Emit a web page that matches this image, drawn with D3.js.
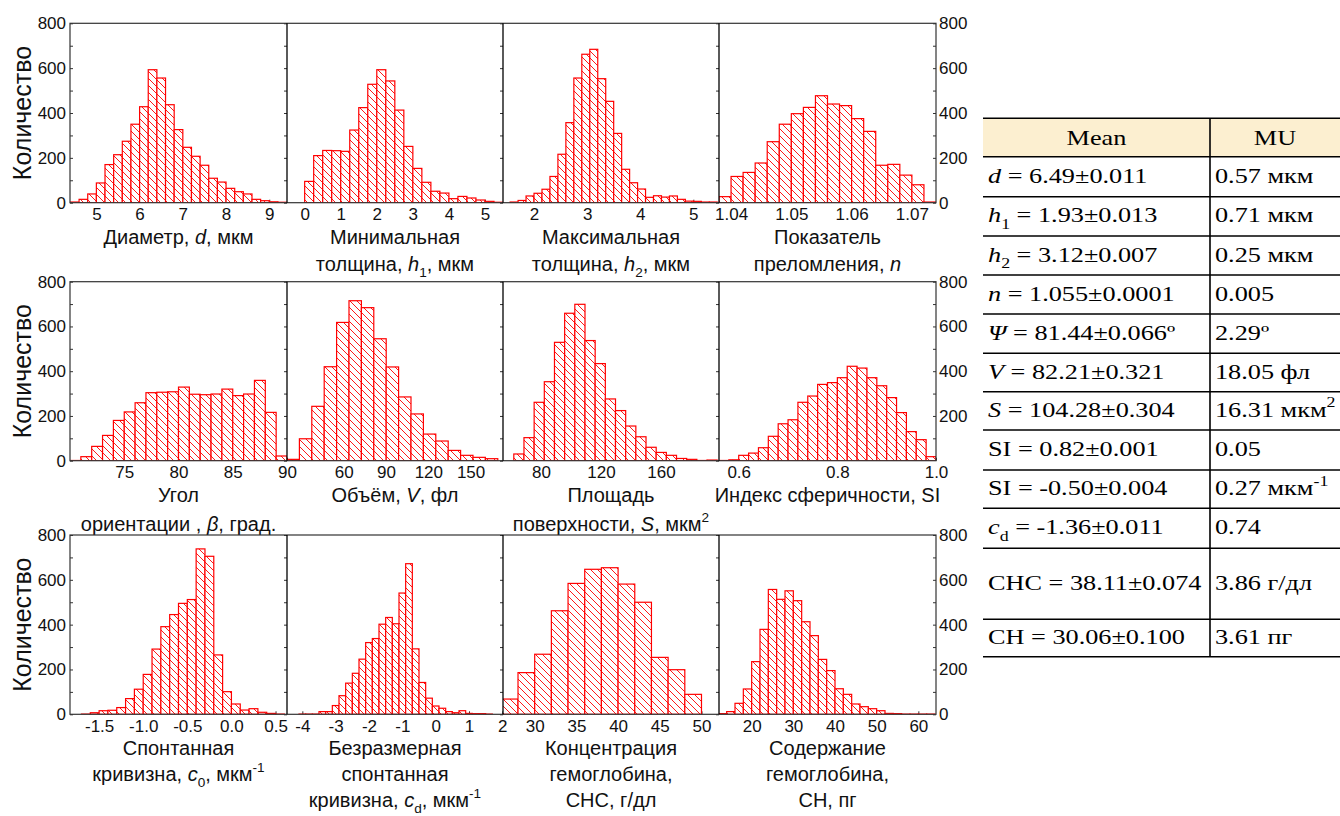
<!DOCTYPE html>
<html><head><meta charset="utf-8">
<script src="https://cdn.jsdelivr.net/npm/d3@7"></script>
<style>body{margin:0;background:#fff}svg{display:block}</style>
</head><body>
<svg id="c" width="1340" height="816"></svg>
<script>
// ---------- DATA ----------
const diameterCounts = [3,15,39,88,170,214,274,350,428,593,556,437,326,247,207,167,109,92,64,49,39,15,9,4,2];
const minThicknessCounts = [95,210,233,232,229,324,424,528,593,543,413,251,153,91,51,43,18,28,21,12,6,2];
const maxThicknessCounts = [3,10,30,42,60,117,216,357,556,662,684,553,452,309,149,89,61,24,31,25,30,15,7,6,3,3];
const refractiveCounts = [27,117,135,177,272,350,397,425,477,440,433,375,318,167,171,123,80,3];
const angleCounts = [1,18,64,113,180,218,259,304,306,308,329,297,295,298,320,291,298,359,216,21];
const volumeCounts = [6,98,243,420,618,715,684,545,419,285,209,119,88,46,24,15,9];
const areaCounts = [30,103,261,353,529,659,699,537,434,276,224,155,107,60,37,24,10,6,1,3];
const sphericityCounts = [1,4,24,34,58,109,165,183,261,289,341,349,371,422,414,371,335,282,215,130,94,18];
const curvatureCounts = [1,7,16,18,30,70,112,178,291,391,445,495,512,738,705,265,101,46,19,25,9,4,1];
const dimlessCurvatureCounts = [1,1,1,12,12,39,83,139,183,246,320,338,402,432,404,541,672,292,142,72,37,27,12,7,16,4,3,3,1];
const chcCounts = [68,186,268,462,584,647,654,581,500,254,199,89];
const chCounts = [3,12,49,113,235,379,557,513,551,507,413,351,245,195,114,89,46,34,25,16,4,3,1,1,1,1];

const binStarts = [4.4, 0, 1.55, 1.038, 70, 19.7, 61.9, 0.56, -1.7, -4.1, 26, 12];
const binWidths = [0.2, 0.25, 0.15, 0.002, 1, 8.8, 6.78, 0.02, 0.1, 0.2, 2, 2];
const xDomains = [[4.39,9.41],[-0.49,5.5],[1.416,5.483],[1.038,1.074],[70,90],[19.7,173],[54.7,198.7],[0.56,1.0],[-1.83,0.63],[-4.46,2.02],[26.2,52.1],[12.16,64.24]];
const xTicks = [[5,6,7,8,9],[0,1,2,3,4,5],[2,3,4,5],[1.04,1.05,1.06,1.07],[75,80,85,90],[60,90,120,150],[80,120,160],[0.6,0.8,1.0],[-1.5,-1.0,-0.5,0.0,0.5],[-4,-3,-2,-1,0,1,2],[30,35,40,45,50],[20,30,40,50,60]];
const xTickDecimals = [0,0,0,2,0,0,0,1,1,0,0,0];
const yTicks = [0,200,400,600,800];
const yMinorTicks = [100,300,500,700];
const rightTicksByRow = [[0,200,400,600,800],[200,400,600,800],[0,200,400,600,800]];
const yLabel = "Количество";
const axisTitles = [
  ["Диаметр, <i>d</i>, мкм"],
  ["Минимальная","толщина, <i>h</i><sub>1</sub>, мкм"],
  ["Максимальная","толщина, <i>h</i><sub>2</sub>, мкм"],
  ["Показатель","преломления, <i>n</i>"],
  ["Угол","ориентации , <i>β</i>, град."],
  ["Объём, <i>V</i>, фл"],
  ["Площадь","поверхности, <i>S</i>, мкм<sup>2</sup>"],
  ["Индекс сферичности, SI"],
  ["Спонтанная","кривизна, <i>c</i><sub>0</sub>, мкм<sup>-1</sup>"],
  ["Безразмерная","спонтанная","кривизна, <i>c</i><sub>d</sub>, мкм<sup>-1</sup>"],
  ["Концентрация","гемоглобина,","CHC, г/дл"],
  ["Содержание","гемоглобина,","CH, пг"]
];
const tableHeader = ["Mean","MU"];
const tableMean = [
  "<i>d</i> = 6.49±0.011",
  "<i>h</i><sub>1</sub> = 1.93±0.013",
  "<i>h</i><sub>2</sub> = 3.12±0.007",
  "<i>n</i> = 1.055±0.0001",
  "<i>Ψ</i> = 81.44±0.066º",
  "<i>V</i> = 82.21±0.321",
  "<i>S</i> = 104.28±0.304",
  "SI = 0.82±0.001",
  "SI = -0.50±0.004",
  "<i>c</i><sub>d</sub> = -1.36±0.011",
  "CHC = 38.11±0.074",
  "CH = 30.06±0.100"
];
const tableMU = ["0.57 мкм","0.71 мкм","0.25 мкм","0.005","2.29º","18.05 фл","16.31 мкм<sup>2</sup>","0.05","0.27 мкм<sup>-1</sup>","0.74","3.86 г/дл","3.61 пг"];

const allCounts = [diameterCounts,minThicknessCounts,maxThicknessCounts,refractiveCounts,angleCounts,volumeCounts,areaCounts,sphericityCounts,curvatureCounts,dimlessCurvatureCounts,chcCounts,chCounts];

// ---------- LAYOUT ----------
const SANS = "'Liberation Sans', Arial, sans-serif";
const SERIF = "'Liberation Serif', 'Times New Roman', serif";
const colX = [70, 287, 503, 719, 936];
const rowY = [[23.3,202.7],[281.7,460.7],[535,714.3]];
const titleGap = [27, 29, 26];
const RED = "#ff0000";

const svg = d3.select("#c");
const defs = svg.append("defs");
const pat = defs.append("pattern").attr("id","hatch").attr("patternUnits","userSpaceOnUse")
  .attr("width",7).attr("height",7);
pat.append("rect").attr("width",7).attr("height",7).attr("fill","#fff");
pat.append("path").attr("d","M0,0L7,7M-1,6L1,8M6,-1L8,1").attr("stroke",RED).attr("stroke-width",0.9);

// rich text helper
function rich(textSel, str, fs) {
  const parts = str.split(/(<\/?(?:i|sub|sup)>)/);
  let it=false, sub=false, sup=false, cur=0;
  parts.forEach(p => {
    if (!p) return;
    if (p==="<i>") {it=true;return;} if (p==="</i>") {it=false;return;}
    if (p==="<sub>") {sub=true;return;} if (p==="</sub>") {sub=false;return;}
    if (p==="<sup>") {sup=true;return;} if (p==="</sup>") {sup=false;return;}
    const target = sub ? 0.3*fs : (sup ? -0.45*fs : 0);
    const ts = textSel.append("tspan").text(p);
    if (it) ts.attr("font-style","italic");
    if (sub||sup) ts.attr("font-size", fs*0.68);
    if (target!==cur) { ts.attr("dy", target-cur); cur = target; }
  });
}

allCounts.forEach((counts, i) => {
  const r = Math.floor(i/4), c = i%4;
  const [top, bot] = rowY[r];
  const x0 = colX[c], x1 = colX[c+1];
  const x = d3.scaleLinear().domain(xDomains[i]).range([x0, x1]);
  const y = d3.scaleLinear().domain([0,800]).range([bot, top]);
  const g = svg.append("g");
  const clipId = "clip"+i;
  defs.append("clipPath").attr("id",clipId).append("rect")
    .attr("x",x0).attr("y",top-2).attr("width",x1-x0).attr("height",bot-top+2);

  // x ticks
  const dec = xTickDecimals[i];
  const ax = g.append("g").attr("transform",`translate(0,${bot})`)
    .call(d3.axisBottom(x).tickValues(xTicks[i]).tickSizeInner(-3).tickSizeOuter(0)
      .tickPadding(5.5).tickFormat(v => v.toFixed(dec)));
  ax.select(".domain").remove();
  ax.selectAll("line").attr("stroke","#333");
  ax.selectAll("text").attr("font-size",17).attr("font-family",SANS).attr("fill","#111");

  // bars
  const bins = counts.map((v,k) => ({a: binStarts[i] + k*binWidths[i], v}));
  g.append("g").attr("clip-path",`url(#${clipId})`)
    .selectAll("rect").data(bins).join("rect")
    .attr("x", d => x(d.a))
    .attr("width", d => x(d.a + binWidths[i]) - x(d.a))
    .attr("y", d => y(d.v))
    .attr("height", d => y(0) - y(d.v))
    .attr("fill","url(#hatch)").attr("stroke",RED).attr("stroke-width",1.2);

  // titles
  const cx = (x0+x1)/2;
  axisTitles[i].forEach((line, li) => {
    const t = svg.append("text").attr("x",cx).attr("y", bot + 41 + li*titleGap[r])
      .attr("text-anchor","middle").attr("font-family",SANS).attr("font-size",20).attr("fill","#111");
    rich(t, line, 20);
  });

  // separator ticks (left side of each inner boundary)
  if (c>0) {
    const sa = svg.append("g").attr("transform",`translate(${x0},0)`)
      .call(d3.axisRight(y).tickValues(yTicks.concat(yMinorTicks)).tickSize(-3).tickFormat(""));
    sa.select(".domain").remove();
    sa.selectAll("line").attr("stroke","#333");
  }
});

// row frames, y axes, y labels
rowY.forEach(([top,bot], r) => {
  const y = d3.scaleLinear().domain([0,800]).range([bot, top]);
  const la = svg.append("g").attr("transform",`translate(${colX[0]},0)`)
    .call(d3.axisLeft(y).tickValues(yTicks).tickSize(-3).tickPadding(4));
  la.select(".domain").remove();
  la.selectAll("line").attr("stroke","#333");
  la.selectAll("text").attr("font-size",17).attr("font-family",SANS).attr("fill","#111");
  const lm = svg.append("g").attr("transform",`translate(${colX[0]},0)`)
    .call(d3.axisLeft(y).tickValues(yMinorTicks).tickSize(-3).tickFormat(""));
  lm.select(".domain").remove(); lm.selectAll("line").attr("stroke","#333");
  const ra = svg.append("g").attr("transform",`translate(${colX[4]},0)`)
    .call(d3.axisRight(y).tickValues(rightTicksByRow[r]).tickSize(-3).tickPadding(3));
  ra.select(".domain").remove();
  ra.selectAll("line").attr("stroke","#333");
  ra.selectAll("text").attr("font-size",17).attr("font-family",SANS).attr("fill","#111");
  const rm = svg.append("g").attr("transform",`translate(${colX[4]},0)`)
    .call(d3.axisRight(y).tickValues(yMinorTicks).tickSize(-3).tickFormat(""));
  rm.select(".domain").remove(); rm.selectAll("line").attr("stroke","#333");
  svg.append("rect").attr("x",colX[0]).attr("y",top).attr("width",colX[4]-colX[0]).attr("height",bot-top)
    .attr("fill","none").attr("stroke","#333").attr("stroke-width",1.2);
  colX.slice(1,4).forEach(sx => {
    svg.append("line").attr("x1",sx).attr("x2",sx).attr("y1",top).attr("y2",bot)
      .attr("stroke","#000").attr("stroke-width",1.3);
  });
  svg.append("text").attr("transform",`translate(31,${(top+bot)/2}) rotate(-90)`)
    .attr("text-anchor","middle").attr("font-family",SANS).attr("font-size",25).attr("fill","#111")
    .text(yLabel);
});

// ---------- TABLE ----------
const tLines = [118.3,156.7,196.7,236,275,314,353.3,391.7,430,470,508.3,548.3,619.3,656.7];
const tLeft = 983, tMid = 1210, tRight = 1340;
const TFS = 21, STRETCH = 1.25;
svg.append("rect").attr("x",tLeft).attr("y",tLines[0]).attr("width",tRight-tLeft).attr("height",tLines[1]-tLines[0])
  .attr("fill","#fcefd0");
function tableText(str, tx, ty, anchor) {
  const t = svg.append("text").attr("transform",`translate(${tx},${ty}) scale(${STRETCH},1)`)
    .attr("text-anchor",anchor).attr("font-family",SERIF).attr("font-size",TFS).attr("fill","#000");
  rich(t, str, TFS);
}
tableText(tableHeader[0], (tLeft+tMid)/2, (tLines[0]+tLines[1])/2+7, "middle");
tableText(tableHeader[1], (tMid+tRight)/2, (tLines[0]+tLines[1])/2+7, "middle");
tableMean.forEach((s, k) => {
  const cy = (tLines[k+1]+tLines[k+2])/2 + 6;
  tableText(s, tLeft+5, cy, "start");
  tableText(tableMU[k], tMid+5, cy, "start");
});
tLines.forEach(ly => {
  svg.append("line").attr("x1",tLeft).attr("x2",tRight).attr("y1",ly).attr("y2",ly)
    .attr("stroke","#000").attr("stroke-width",1.6);
});
svg.append("line").attr("x1",tMid).attr("x2",tMid).attr("y1",tLines[0]).attr("y2",tLines[tLines.length-1])
  .attr("stroke","#000").attr("stroke-width",1.6);
</script>
</body></html>
